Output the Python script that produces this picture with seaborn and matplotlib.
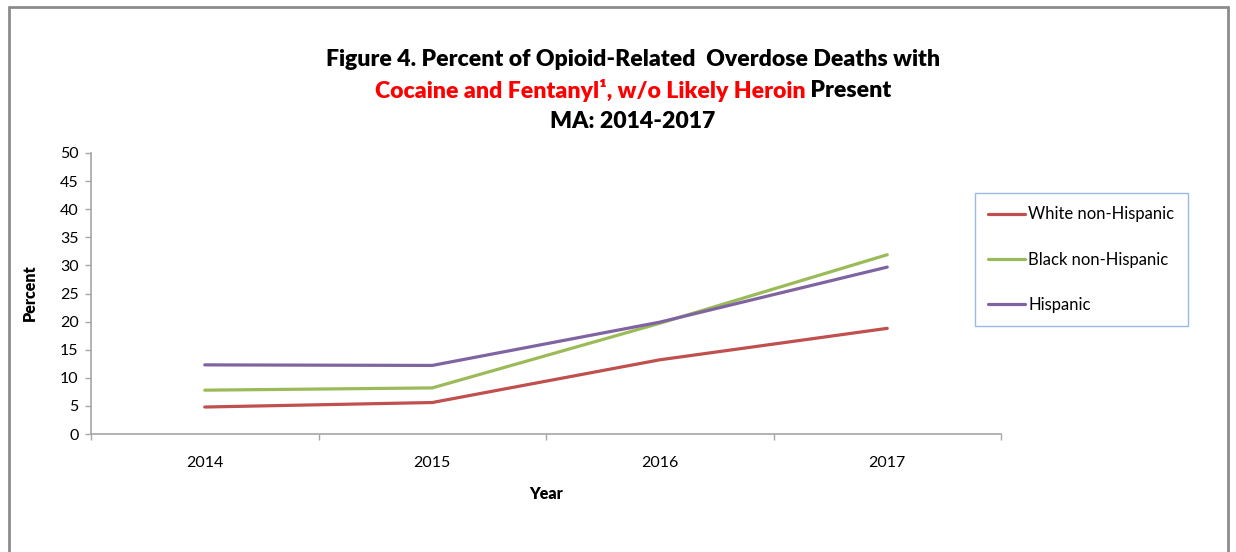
import matplotlib
matplotlib.use("Agg")
import matplotlib.pyplot as plt
from matplotlib.lines import Line2D
from matplotlib.ticker import FixedLocator
import seaborn as sns
import pandas as pd

years = ["2014", "2015", "2016", "2017"]
white_non_hispanic = [4.8, 5.6, 13.2, 18.8]
black_non_hispanic = [7.8, 8.2, 19.7, 31.9]
hispanic = [12.3, 12.2, 19.9, 29.7]
series_names = ["White non-Hispanic", "Black non-Hispanic", "Hispanic"]
colors = ["#C0504D", "#9BBB59", "#8064A2"]

df = pd.DataFrame({
    "Year": years * 3,
    "Percent": white_non_hispanic + black_non_hispanic + hispanic,
    "Group": [n for n in series_names for _ in years],
})

sns.set_theme(style="white")
plt.rcParams["font.family"] = ["Lato", "DejaVu Sans"]
plt.rcParams["text.color"] = "#000000"

fig = plt.figure(figsize=(12.36, 5.52), dpi=100)
ax = fig.add_axes([91 / 1236, 1 - 434 / 552, (1001 - 91) / 1236, (434 - 153) / 552])

sns.lineplot(data=df, x="Year", y="Percent", hue="Group", hue_order=series_names,
             palette=colors, linewidth=2.3, sort=False, ax=ax, legend=False)

axis_gray = "#A6A6A6"
ax.set_xlim(-0.5, len(years) - 0.5)
ax.set_ylim(0, 50)
ax.set_yticks(range(0, 51, 5))
ax.xaxis.set_major_locator(FixedLocator(range(len(years))))
ax.set_xticklabels(years)
ax.xaxis.set_minor_locator(FixedLocator([i - 0.5 for i in range(len(years) + 1)]))
ax.tick_params(axis="x", which="major", length=0, pad=16, labelsize=11.5, labelcolor="#000000")
ax.tick_params(axis="x", which="minor", length=4, width=1, color=axis_gray, direction="out")
ax.tick_params(axis="y", which="major", length=4, width=1, color=axis_gray, direction="out",
               labelsize=11.5, labelcolor="#000000", pad=5)
ax.tick_params(bottom=True, left=True, which="both")
for side in ["top", "right"]:
    ax.spines[side].set_visible(False)
for side in ["left", "bottom"]:
    ax.spines[side].set_color(axis_gray)
    ax.spines[side].set_linewidth(1.2)
ax.grid(False)

ax.set_xlabel("")
ax.set_ylabel("")
fig.text(546 / 1236, 1 - 494 / 552, "Year", ha="center", va="center", fontsize=11.5,
         fontweight="heavy")
fig.text(30 / 1236, 1 - 293 / 552, "Percent", ha="center", va="center", rotation=90,
         fontsize=11.5, fontweight="heavy")

# Title: three centred lines, the second one mixing red and black text
cx = 633 / 1236
tsize = 16.6
fig.text(cx, 1 - 59 / 552, "Figure 4. Percent of Opioid-Related  Overdose Deaths with",
         ha="center", va="center", fontsize=tsize, fontweight="heavy")
fig.text(cx, 1 - 121 / 552, "MA: 2014-2017", ha="center", va="center",
         fontsize=tsize, fontweight="heavy")

red_part = "Cocaine and Fentanyl¹, w/o Likely Heroin"
black_part = " Present"
renderer = fig.canvas.get_renderer()
t_red = fig.text(0, 1 - 90 / 552, red_part, ha="left", va="center", fontsize=tsize,
                 fontweight="heavy", color="#FF0000")
t_blk = fig.text(0, 1 - 90 / 552, black_part, ha="left", va="center", fontsize=tsize,
                 fontweight="heavy", color="#000000")
w_red = t_red.get_window_extent(renderer).width / fig.bbox.width
w_blk = t_blk.get_window_extent(renderer).width / fig.bbox.width
x0 = cx - (w_red + w_blk) / 2
t_red.set_x(x0)
t_blk.set_x(x0 + w_red)

# Legend
handles = [Line2D([], [], color=c, linewidth=2.3) for c in colors]
leg = fig.legend(handles, series_names, loc="upper left",
                 bbox_to_anchor=(975 / 1236, 1 - 193 / 552), bbox_transform=fig.transFigure,
                 frameon=True, fancybox=False, fontsize=12, handlelength=2.2,
                 handletextpad=0.2, labelspacing=1.75, borderpad=0.8, borderaxespad=0)
leg.get_frame().set_edgecolor("#7EA6E0")
leg.get_frame().set_linewidth(1.0)
for txt in leg.get_texts():
    txt.set_color("#000000")

# Outer chart frame (left, top and right edges)
frame_kw = dict(color="#8C8C8C", linewidth=2, transform=fig.transFigure)
fig.add_artist(Line2D([9 / 1236, 9 / 1236], [0, 1 - 7 / 552], **frame_kw))
fig.add_artist(Line2D([9 / 1236, 1228 / 1236], [1 - 7 / 552, 1 - 7 / 552], **frame_kw))
fig.add_artist(Line2D([1228 / 1236, 1228 / 1236], [0, 1 - 7 / 552], **frame_kw))

fig.savefig("out.png", dpi=100, facecolor="white")
